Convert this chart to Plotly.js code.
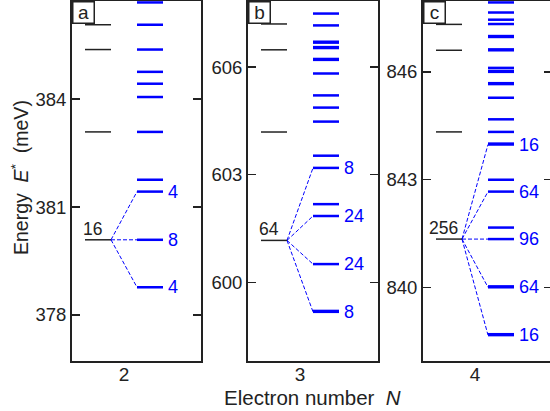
<!DOCTYPE html>
<html>
<head>
<meta charset="utf-8">
<script src="https://cdn.plot.ly/plotly-3.0.1.min.js"></script>
<style>html,body{margin:0;padding:0;overflow:hidden;background:#fff;}#chart{width:553px;height:411px;}</style>
</head>
<body>
<div id="chart"></div>
<script>
// ---- data (meV) ----
var electronNumbers = ['2', '3', '4'];
var panelLetters = ['a', 'b', 'c'];

// Panel a (N = 2)
var blackA = [386.07, 385.38, 383.09, 380.09];
var blueA = [386.69, 386.07, 385.38, 384.76, 384.43, 384.06, 383.09, 381.76, 381.43, 380.09, 378.77];
var groundA = 380.09, groundDegA = '16';
var splitA = [381.43, 380.09, 378.77];
var splitDegA = ['4', '8', '4'];
var ticksA = [378, 381, 384];

// Panel b (N = 3)
var blackB = [607.20, 606.48, 604.19, 601.17];
var blueB = [607.49, 607.16, 606.68, 606.705, 606.53, 606.555, 606.20, 606.225, 605.82, 605.21, 604.87, 604.48,
             603.53, 603.19, 602.18, 601.85, 600.51, 599.18, 599.205];
var groundB = 601.17, groundDegB = '64';
var splitB = [603.19, 601.85, 600.51, 599.18];
var splitDegB = ['8', '24', '24', '8'];
var ticksB = [600, 603, 606];

// Panel c (N = 4)
var blackC = [847.32, 846.60, 844.33, 841.35];
var blueC = [847.93, 847.65, 847.45, 847.33, 846.97, 846.995, 846.60, 846.625, 846.11, 846.00, 846.025,
             845.66, 845.685, 845.28, 844.68, 844.33, 843.98, 844.005, 843.00, 842.67, 841.67, 841.35,
             840.01, 840.035, 838.68, 838.705];
var groundC = 841.35, groundDegC = '256';
var splitC = [843.98, 842.67, 841.35, 840.01, 838.68];
var splitDegC = ['16', '64', '96', '64', '16'];
var ticksC = [840, 843, 846];

var rangeA = [376.72, 386.73], rangeB = [597.81, 607.84], rangeC = [837.96, 847.97];

// ---- layout helpers ----
var W = 553, H = 411;
var FONT = '"Liberation Sans", Arial, Helvetica, sans-serif';
var TXT = '#222';
var BLUE = '#0000ff';
var X_BLACK = [13, 39], X_BLUE = [65, 91], X_TICK = 52, X_LABEL = 94, X_GLABEL = 20.5;

function levelTrace(levels, xs, color, width, ax) {
  var x = [], y = [];
  levels.forEach(function (e) { x.push(xs[0], xs[1], null); y.push(e, e, null); });
  return {x: x, y: y, type: 'scatter', mode: 'lines', line: {color: color, width: width},
          xaxis: 'x' + ax, yaxis: 'y' + ax, hoverinfo: 'skip', showlegend: false};
}
function connectTrace(ground, splits, ax) {
  var x = [], y = [];
  splits.forEach(function (e) { x.push(X_BLACK[1], X_BLUE[0], null); y.push(ground, e, null); });
  return {x: x, y: y, type: 'scatter', mode: 'lines', line: {color: BLUE, width: 1, dash: '4px,2px'},
          xaxis: 'x' + ax, yaxis: 'y' + ax, hoverinfo: 'skip', showlegend: false};
}

var panels = [
  {black: blackA, blue: blueA, ground: groundA, gdeg: groundDegA, split: splitA, sdeg: splitDegA, ticks: ticksA, range: rangeA, dom: [72, 201]},
  {black: blackB, blue: blueB, ground: groundB, gdeg: groundDegB, split: splitB, sdeg: splitDegB, ticks: ticksB, range: rangeB, dom: [248, 378]},
  {black: blackC, blue: blueC, ground: groundC, gdeg: groundDegC, split: splitC, sdeg: splitDegC, ticks: ticksC, range: rangeC, dom: [423, 552]}
];

var traces = [], annotations = [];
var layout = {
  width: W, height: H, margin: {l: 0, r: 0, t: 0, b: 0},
  paper_bgcolor: '#fff', plot_bgcolor: '#fff',
  font: {family: FONT, color: TXT, size: 17},
  showlegend: false
};
var yDom = [50 / H, 410 / H];

panels.forEach(function (p, i) {
  var ax = i === 0 ? '' : String(i + 1);
  traces.push(connectTrace(p.ground, p.split, ax));
  traces.push(levelTrace(p.black, X_BLACK, '#222', 1.5, ax));
  traces.push(levelTrace(p.blue, X_BLUE, BLUE, 2.5, ax));

  layout['xaxis' + ax] = {
    domain: [p.dom[0] / W, p.dom[1] / W], range: [0, p.dom[1] - p.dom[0]],
    anchor: 'y' + ax, showgrid: false, zeroline: false,
    showline: true, mirror: true, linecolor: '#222', linewidth: 2,
    ticks: '', tickmode: 'array', tickvals: [X_TICK], ticktext: [electronNumbers[i]],
    ticklabelstandoff: -5,
    tickfont: {size: 19, color: TXT, family: FONT}, fixedrange: true
  };
  layout['yaxis' + ax] = {
    domain: yDom, range: p.range, anchor: 'x' + ax,
    showgrid: false, zeroline: false,
    showline: true, mirror: 'ticks', linecolor: '#222', linewidth: 2,
    ticks: 'inside', ticklen: 8, tickwidth: 1.5, tickcolor: '#222',
    tickmode: 'array', tickvals: p.ticks, ticktext: p.ticks.map(String),
    tickfont: {size: 18.5, color: TXT, family: FONT}, fixedrange: true
  };

  // degeneracy labels
  annotations.push({xref: 'x' + ax, yref: 'y' + ax, x: X_GLABEL, y: p.ground, text: p.gdeg,
    showarrow: false, xanchor: 'center', yanchor: 'bottom', yshift: -1,
    font: {size: 17.5, color: TXT, family: FONT}});
  p.split.forEach(function (e, k) {
    annotations.push({xref: 'x' + ax, yref: 'y' + ax, x: X_LABEL, y: e, text: p.sdeg[k],
      showarrow: false, xanchor: 'left', yanchor: 'middle',
      font: {size: 18, color: BLUE, family: FONT}});
  });
  // panel letter box
  annotations.push({xref: 'x' + ax + ' domain', yref: 'y' + ax + ' domain', x: 0, y: 1, text: panelLetters[i],
    showarrow: false, xanchor: 'left', yanchor: 'top', bgcolor: '#fff',
    bordercolor: '#222', borderwidth: 1.5, borderpad: 0, width: 20, height: 20,
    font: {size: 19, color: TXT, family: FONT}});
});

// axis titles
annotations.push({xref: 'paper', yref: 'paper', x: 20 / W, y: (H - 178) / H, textangle: -90,
  text: 'Energy\u00a0\u00a0<i>E</i><sup>*</sup>\u00a0\u00a0(meV)', showarrow: false,
  xanchor: 'center', yanchor: 'middle', font: {size: 19.5, color: TXT, family: FONT}});
annotations.push({xref: 'paper', yref: 'paper', x: 312 / W, y: (H - 397) / H,
  text: 'Electron number\u00a0\u00a0<i>N</i>', showarrow: false,
  xanchor: 'center', yanchor: 'middle', font: {size: 20.5, color: TXT, family: FONT}});

layout.annotations = annotations;

Plotly.newPlot('chart', traces, layout, {staticPlot: true, displayModeBar: false});
</script>
</body>
</html>
